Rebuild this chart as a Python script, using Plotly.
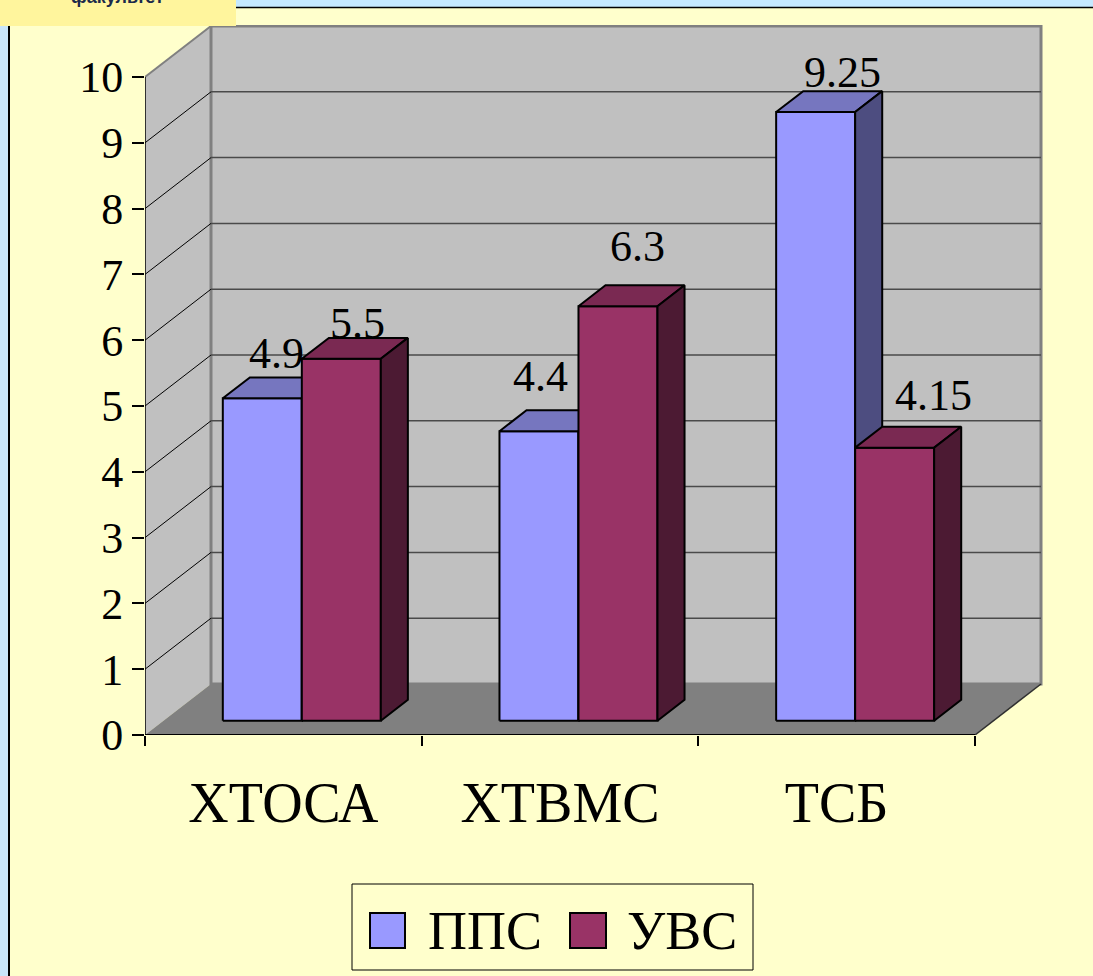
import plotly.graph_objects as go

# ---------------- data ----------------
categories = ["ХТОСА", "ХТВМС", "ТСБ"]
series_names = ["ППС", "УВС"]
pps_values = [4.9, 4.4, 9.25]
uvs_values = [5.5, 6.3, 4.15]
y_tick_values = [0, 1, 2, 3, 4, 5, 6, 7, 8, 9, 10]
# pixel nudges of the value labels (category-major: ППС, УВС per category)
label_shifts = [(13.7, 45.3), (15.7, 35.8), (2, 55.2), (20, 59.2), (27.3, 39.1), (39.3, 52.6)]

# ---------------- geometry / style ----------------
W, H = 1093, 976
L, R, T, B = 145, 48, 25, 241
PW = W - L - R
PH = H - T - B
CAT_PX = 830 / 3
VAL_PX = 65.8
XMAX = PW / CAT_PX
YMAX = PH / VAL_PX
DX = 66 / CAT_PX           # full floor depth (x, data units)
DY = 51 / VAL_PX           # full floor depth (y, data units)
F0, F1 = 0.28, 0.69        # bar front / back as fraction of depth
BW = 79 / CAT_PX           # bar width

SERIF = "Liberation Serif, Times New Roman, serif"
BG = "#FFFFCC"
WALL = "#C0C0C0"
FLOOR = "#808080"
colors = {
    "ППС": {"front": "#9999FF", "top": "#7676BF", "side": "#4D4D80"},
    "УВС": {"front": "#993366", "top": "#7A2952", "side": "#4C1A33"},
}


def px2paper_x(px):
    return (px - L) / PW


def px2paper_y(py):
    return (T + PH - py) / PH


fig = go.Figure()

# ---------------- bars (3D faces) ----------------
base = F0 * DY
ddx = (F1 - F0) * DX
ddy = (F1 - F0) * DY
series_vals = [pps_values, uvs_values]
label_info = []
for i, cat in enumerate(categories):
    center = i + 0.5 + F0 * DX
    for s, name in enumerate(series_names):
        v = series_vals[s][i]
        xl = center - BW + s * BW
        xr = xl + BW
        yb, yt = base, base + v
        faces = {
            "front": ([xl, xr, xr, xl, xl], [yb, yb, yt, yt, yb]),
            "top": ([xl, xr, xr + ddx, xl + ddx, xl], [yt, yt, yt + ddy, yt + ddy, yt]),
            "side": ([xr, xr + ddx, xr + ddx, xr, xr], [yb, yb + ddy, yt + ddy, yt, yb]),
        }
        for face in ["front", "top", "side"]:
            fx, fy = faces[face]
            fig.add_trace(go.Scatter(
                x=fx, y=fy, mode="lines", fill="toself",
                fillcolor=colors[name][face],
                line=dict(color="black", width=2),
                hoverinfo="skip", showlegend=False,
            ))
        label_info.append(((xl + xr) / 2, yt, v))

# invisible trace to anchor the category-label axis
fig.add_trace(go.Scatter(x=[0.5], y=[0], xaxis="x2", mode="markers",
                         marker=dict(opacity=0), hoverinfo="skip", showlegend=False))

shapes = []
# left wall
shapes.append(dict(type="path", xref="x", yref="y", layer="below",
                   path=f"M 0 0 L 0 10 L {DX} {10 + DY} L {DX} {DY} Z",
                   fillcolor=WALL, line=dict(width=0)))
# back wall
shapes.append(dict(type="rect", xref="x", yref="y", layer="below",
                   x0=DX, y0=DY, x1=3 + DX, y1=10 + DY,
                   fillcolor=WALL, line=dict(color="#808080", width=3)))
# floor
shapes.append(dict(type="path", xref="x", yref="y", layer="below",
                   path=f"M 0 0 L 3 0 L {3 + DX} {DY} L {DX} {DY} Z",
                   fillcolor=FLOOR, line=dict(width=0)))
# gridlines on back wall + diagonals on left wall
for v in y_tick_values[1:-1]:
    shapes.append(dict(type="line", xref="x", yref="y", layer="below",
                       x0=DX, y0=v + DY, x1=3 + DX, y1=v + DY,
                       line=dict(color="#4A4A4A", width=1.5)))
for v in y_tick_values[1:-1]:
    shapes.append(dict(type="line", xref="x", yref="y", layer="below",
                       x0=0, y0=v, x1=DX, y1=v + DY,
                       line=dict(color="black", width=1)))
# top edge of left wall
shapes.append(dict(type="line", xref="x", yref="y", layer="below",
                   x0=0, y0=10, x1=DX, y1=10 + DY,
                   line=dict(color="#808080", width=2)))
# right diagonal edge of floor
shapes.append(dict(type="line", xref="x", yref="y", layer="below",
                   x0=3, y0=0, x1=3 + DX, y1=DY,
                   line=dict(color="#303030", width=1.5)))
# vertical and horizontal axis lines
shapes.append(dict(type="line", xref="x", yref="y", layer="below",
                   x0=0, y0=0, x1=0, y1=10, line=dict(color="black", width=1.5)))
shapes.append(dict(type="line", xref="x", yref="y", layer="below",
                   x0=0, y0=0, x1=3, y1=0, line=dict(color="black", width=2)))

# ---------------- page decoration ----------------
shapes.append(dict(type="rect", xref="paper", yref="paper", layer="above",
                   x0=px2paper_x(0), x1=px2paper_x(W), y0=px2paper_y(0), y1=px2paper_y(7.5),
                   fillcolor="#C5E9FF", line=dict(width=0)))
shapes.append(dict(type="line", xref="paper", yref="paper", layer="above",
                   x0=px2paper_x(0), x1=px2paper_x(W), y0=px2paper_y(7.5), y1=px2paper_y(7.5),
                   line=dict(color="black", width=1.5)))
shapes.append(dict(type="rect", xref="paper", yref="paper", layer="above",
                   x0=px2paper_x(0), x1=px2paper_x(8), y0=px2paper_y(7.5), y1=px2paper_y(H),
                   fillcolor="#C9E6FA", line=dict(width=0)))
shapes.append(dict(type="line", xref="paper", yref="paper", layer="above",
                   x0=px2paper_x(9), x1=px2paper_x(9), y0=px2paper_y(7.5), y1=px2paper_y(H),
                   line=dict(color="black", width=2)))
shapes.append(dict(type="rect", xref="paper", yref="paper", layer="above",
                   x0=px2paper_x(0), x1=px2paper_x(236), y0=px2paper_y(0), y1=px2paper_y(26),
                   fillcolor="#FFF59D", line=dict(width=0)))

# ---------------- legend (drawn) ----------------
shapes.append(dict(type="rect", xref="paper", yref="paper", layer="above",
                   x0=px2paper_x(352), x1=px2paper_x(753), y0=px2paper_y(884), y1=px2paper_y(970),
                   fillcolor=BG, line=dict(color="black", width=1)))
legend_sq = [(370, 405), (570, 606)]
legend_tx = [428, 627]
annotations = []
for k, name in enumerate(series_names):
    x0, x1 = legend_sq[k]
    shapes.append(dict(type="rect", xref="paper", yref="paper", layer="above",
                       x0=px2paper_x(x0), x1=px2paper_x(x1),
                       y0=px2paper_y(913), y1=px2paper_y(948),
                       fillcolor=colors[name]["front"], line=dict(color="black", width=2)))
    annotations.append(dict(xref="paper", yref="paper", x=px2paper_x(legend_tx[k] - 2),
                            y=px2paper_y(931), xanchor="left", yanchor="middle",
                            text=name, showarrow=False,
                            font=dict(family=SERIF, size=54, color="black")))

# value labels
for (lx, ly, v), (sx, sy) in zip(label_info, label_shifts):
    annotations.append(dict(xref="x", yref="y", x=lx, y=ly, xshift=sx, yshift=sy,
                            xanchor="center", yanchor="middle", text=f"{v:g}",
                            showarrow=False, font=dict(family=SERIF, size=44, color="black")))

# cut-off badge caption
annotations.append(dict(xref="paper", yref="paper", x=px2paper_x(117), y=px2paper_y(-3),
                        xanchor="center", yanchor="middle", text="<b>факультет</b>",
                        showarrow=False,
                        font=dict(family="Liberation Sans, Arial, sans-serif", size=18,
                                  color="#1B2A4A")))

fig.update_layout(
    width=W, height=H,
    margin=dict(l=L, r=R, t=T, b=B, pad=0),
    paper_bgcolor=BG, plot_bgcolor="rgba(0,0,0,0)",
    showlegend=False,
    xaxis=dict(range=[0, XMAX], tickvals=[0, 1, 2, 3], ticktext=["", "", "", ""],
               ticks="outside", ticklen=10, tickwidth=1.5, tickcolor="black",
               showgrid=False, zeroline=False, showline=False, fixedrange=True),
    xaxis2=dict(range=[0, XMAX], overlaying="x", anchor="y", side="bottom",
                tickvals=[0.5, 1.5, 2.5], ticktext=categories, ticks="",
                tickfont=dict(family=SERIF, size=56, color="black"),
                ticklabelstandoff=30,
                showgrid=False, zeroline=False, showline=False, fixedrange=True),
    yaxis=dict(range=[0, YMAX], tickvals=y_tick_values,
               ticktext=[str(t) for t in y_tick_values],
               ticks="outside", ticklen=12, tickwidth=1.5, tickcolor="black",
               tickfont=dict(family=SERIF, size=44, color="black"),
               showgrid=False, zeroline=False, showline=False, fixedrange=True),
    shapes=shapes,
    annotations=annotations,
)

fig.write_html("out.html")
